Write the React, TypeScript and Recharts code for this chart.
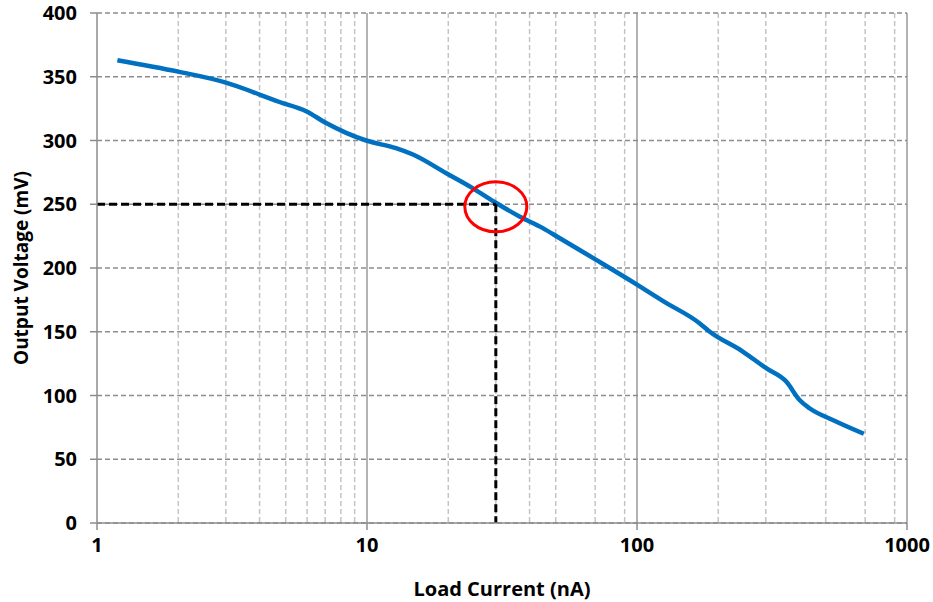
import React from "react";
import {
  LineChart,
  Line,
  XAxis,
  YAxis,
  CartesianGrid,
  ReferenceLine,
  ReferenceDot,
} from "recharts";

// Load current (nA) vs output voltage (mV)
const loadCurrent = [1.19, 2, 2.98, 3.57, 4.0, 4.74, 5.95, 7.06, 8.37, 9.93, 12.8, 14.8, 19.6, 24.6, 30.1, 36.7, 44.8, 51.6, 70.6, 100, 125, 170.4, 185.5, 246.5, 301, 357, 400, 435.5, 531, 692];
const outputVoltage = [363, 354, 345.6, 340, 336, 330.2, 323, 313.7, 306, 300, 294, 289, 274.5, 262.7, 251, 240.4, 231.3, 223.5, 206.4, 187, 174, 156.7, 150.2, 134.5, 121.4, 110.9, 96.5, 90, 80.8, 70];

const xTicks = [1, 10, 100, 1000];
const xMinorGrid = [2, 3, 4, 5, 6, 7, 8, 9, 20, 30, 40, 50, 60, 70, 80, 90, 200, 300, 400, 500, 600, 700, 800, 900];
const xMajorGrid = [10, 100, 1000];
const yTicks = [0, 50, 100, 150, 200, 250, 300, 350, 400];

const markCurrent = 30;
const markVoltage = 250;

const data = loadCurrent.map((x, i) => ({ x, y: outputVoltage[i] }));

const FONT = "'Open Sans', sans-serif";

const Ellipse = (props: any) => (
  <ellipse
    cx={props.cx}
    cy={props.cy}
    rx={31}
    ry={25}
    fill="none"
    stroke="#ff0000"
    strokeWidth={3}
  />
);

export default function App() {
  return (
    <div style={{ position: "absolute", left: 0, top: 0, width: 933, height: 602, background: "#fff" }}>
      <LineChart
        width={933}
        height={602}
        data={data}
        margin={{ top: 13, right: 26, bottom: 0, left: 0 }}
      >
        <CartesianGrid
          horizontal={false}
          verticalValues={xMinorGrid}
          stroke="#c4c4c4"
          strokeWidth={1.5}
          strokeDasharray="5 3"
        />
        <CartesianGrid
          horizontal={false}
          verticalValues={xMajorGrid}
          stroke="#9a9a9a"
          strokeWidth={1.5}
        />
        <CartesianGrid
          vertical={false}
          stroke="#8c8c8c"
          strokeWidth={1.5}
          strokeDasharray="5 3"
        />
        <XAxis
          dataKey="x"
          type="number"
          scale="log"
          domain={[1, 1000]}
          ticks={xTicks}
          allowDataOverflow
          height={79}
          tickSize={7}
          tickMargin={8}
          stroke="#8c8c8c"
          strokeWidth={1.5}
          tick={{ fill: "#000", fontSize: 20, fontWeight: 700, fontFamily: FONT }}
          label={{
            value: "Load Current (nA)",
            position: "insideBottom",
            offset: 6,
            fill: "#000",
            fontSize: 20,
            fontWeight: 700,
            fontFamily: FONT,
          }}
        />
        <YAxis
          type="number"
          domain={[0, 400]}
          ticks={yTicks}
          width={97}
          tickSize={7}
          tickMargin={13}
          stroke="#8c8c8c"
          strokeWidth={1.5}
          tick={{ fill: "#000", fontSize: 20, fontWeight: 700, fontFamily: FONT }}
          label={{
            value: "Output Voltage (mV)",
            angle: -90,
            position: "center",
            dx: -27,
            fill: "#000",
            fontSize: 19,
            fontWeight: 700,
            fontFamily: FONT,
          }}
        />
        <Line
          type="monotone"
          dataKey="y"
          stroke="#0070c0"
          strokeWidth={4.5}
          dot={false}
          isAnimationActive={false}
        />
        <ReferenceLine
          segment={[
            { x: 1, y: markVoltage },
            { x: markCurrent, y: markVoltage },
          ]}
          stroke="#000"
          strokeWidth={3}
          strokeDasharray="8 4"
        />
        <ReferenceLine
          segment={[
            { x: markCurrent, y: markVoltage },
            { x: markCurrent, y: 0 },
          ]}
          stroke="#000"
          strokeWidth={3}
          strokeDasharray="8 4"
        />
        <ReferenceDot x={markCurrent} y={248} shape={<Ellipse />} />
      </LineChart>
    </div>
  );
}
